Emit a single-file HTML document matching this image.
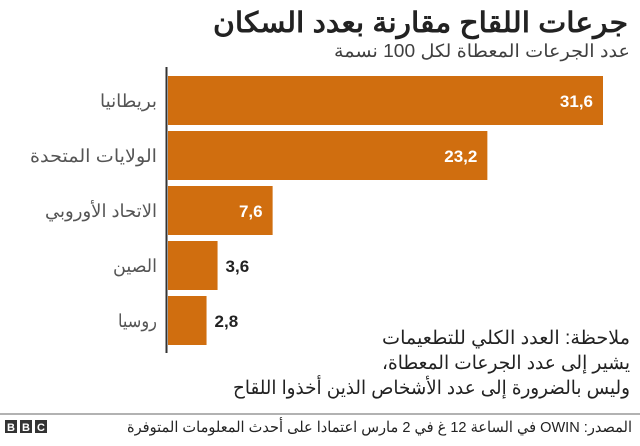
<!DOCTYPE html>
<html><head><meta charset="utf-8"><style>
body{margin:0;width:640px;height:441px;background:#fff;overflow:hidden;font-family:"Liberation Sans","Noto Sans CJK SC",sans-serif;}
svg text{font-family:"Liberation Sans","Noto Sans CJK SC",sans-serif;}
</style></head><body>
<svg width="640" height="441">
<text x="628" y="32" text-anchor="start" font-size="28" font-weight="bold" fill="#222" direction="rtl" textLength="415" lengthAdjust="spacingAndGlyphs">جرعات اللقاح مقارنة بعدد السكان</text>
<text x="630" y="57" text-anchor="start" font-size="18" fill="#404040" direction="rtl" textLength="296" lengthAdjust="spacingAndGlyphs">عدد الجرعات المعطاة لكل 100 نسمة</text>
<g id="bars"></g>
<line x1="166.5" y1="67" x2="166.5" y2="353" stroke="#333" stroke-width="2"/>
<text x="630" y="344" text-anchor="start" font-size="19" fill="#222" direction="rtl" textLength="248" lengthAdjust="spacingAndGlyphs">ملاحظة: العدد الكلي للتطعيمات</text>
<text x="630" y="369" text-anchor="start" font-size="19" fill="#222" direction="rtl" textLength="248" lengthAdjust="spacingAndGlyphs">يشير إلى عدد الجرعات المعطاة،</text>
<text x="630" y="394" text-anchor="start" font-size="19" fill="#222" direction="rtl" textLength="397" lengthAdjust="spacingAndGlyphs">وليس بالضرورة إلى عدد الأشخاص الذين أخذوا اللقاح</text>
<line x1="0" y1="414" x2="640" y2="414" stroke="#999" stroke-width="1.5"/>
<g>
<rect x="5" y="420" width="12" height="13" fill="#333"/><rect x="20" y="420" width="12" height="13" fill="#333"/><rect x="35" y="420" width="12" height="13" fill="#333"/>
<text x="11" y="431" text-anchor="middle" font-size="11" font-weight="bold" fill="#fff">B</text>
<text x="26" y="431" text-anchor="middle" font-size="11" font-weight="bold" fill="#fff">B</text>
<text x="41" y="431" text-anchor="middle" font-size="11" font-weight="bold" fill="#fff">C</text>
</g>
<text x="632" y="432" text-anchor="start" font-size="15" fill="#222" direction="rtl" textLength="505" lengthAdjust="spacingAndGlyphs">المصدر: OWIN في الساعة 12 غ في 2 مارس اعتمادا على أحدث المعلومات المتوفرة</text>
</svg>
<script>
const categories=["بريطانيا","الولايات المتحدة","الاتحاد الأوروبي","الصين","روسيا"];
const values=[31.6,23.2,7.6,3.6,2.8];
const valueLabels=["31,6","23,2","7,6","3,6","2,8"];
const labelWidths=[57,127,112,44,39];
const x0=168,maxV=31.6,maxW=435;
const xs=v=>v/maxV*maxW;
const ys=i=>76+i*55;
const g=document.getElementById('bars');
const NS="http://www.w3.org/2000/svg";
categories.forEach((c,i)=>{
 const r=document.createElementNS(NS,'rect');
 r.setAttribute('x',x0);r.setAttribute('y',ys(i));r.setAttribute('width',xs(values[i]));r.setAttribute('height',49);r.setAttribute('fill','#d06e0f');
 
 
 g.appendChild(r);
 const l=document.createElementNS(NS,'text');
 l.setAttribute('x',157);l.setAttribute('y',ys(i)+31);l.setAttribute('text-anchor','start');l.setAttribute('font-size','18');l.setAttribute('fill','#555');l.setAttribute('direction','rtl');
 l.setAttribute('textLength',labelWidths[i]);l.setAttribute('lengthAdjust','spacingAndGlyphs');
 l.textContent=c;
 
 
 g.appendChild(l);
 const w=xs(values[i]);const inside=w>60;
 const t=document.createElementNS(NS,'text');
 t.setAttribute('x',inside?x0+w-10:x0+w+8);t.setAttribute('y',ys(i)+31);t.setAttribute('text-anchor',inside?'end':'start');
 t.setAttribute('font-size','17');t.setAttribute('font-weight','bold');t.setAttribute('fill',inside?'#fff':'#222');
 t.textContent=valueLabels[i];
 
 
 g.appendChild(t);
});
</script>
</body></html>
